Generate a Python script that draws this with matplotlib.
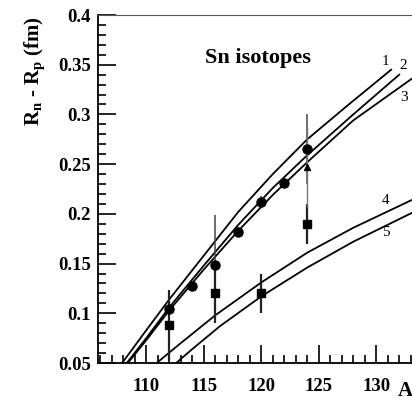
import matplotlib
matplotlib.use('Agg')
import matplotlib.pyplot as plt
from matplotlib.ticker import MultipleLocator

plt.rcParams['font.family'] = ['Liberation Serif', 'DejaVu Serif']
plt.rcParams['mathtext.fontset'] = 'custom'
plt.rcParams['mathtext.rm'] = 'Liberation Serif:bold'
plt.rcParams['mathtext.bf'] = 'Liberation Serif:bold'

# curves (mass number A, Rn - Rp in fm)
c1_A = [107.9, 110, 112, 115, 118, 121, 124, 127.5, 131.3]
c1_R = [0.05, 0.083, 0.114, 0.158, 0.202, 0.240, 0.275, 0.309, 0.345]
c2_A = [108.3, 110, 112, 115, 118, 121, 124, 128, 132]
c2_R = [0.05, 0.075, 0.106, 0.148, 0.189, 0.226, 0.259, 0.300, 0.340]
c3_A = [108.4, 110, 112, 115, 118, 121, 124, 128, 133.1]
c3_R = [0.05, 0.073, 0.103, 0.144, 0.183, 0.219, 0.252, 0.294, 0.336]
c4_A = [110.9, 113, 116, 120, 124, 128, 133.1]
c4_R = [0.05, 0.070, 0.098, 0.131, 0.161, 0.186, 0.214]
c5_A = [112.6, 114, 116.4, 120, 124, 128, 133.1]
c5_R = [0.05, 0.064, 0.087, 0.117, 0.146, 0.172, 0.201]

# experimental points
circ_A = [112, 114, 116, 118, 120, 122, 124]
circ_R = [0.104, 0.127, 0.149, 0.182, 0.212, 0.231, 0.265]
circ_err = [0.0, 0.0, 0.05, 0.005, 0.006, 0.005, 0.035]
sq_A = [112, 116, 120, 124]
sq_R = [0.088, 0.120, 0.120, 0.190]
sq_err = [0.035, 0.03, 0.02, 0.02]
tri_A = [124]
tri_R = [0.247]
tri_err = [0.04]

fig = plt.figure(figsize=(4.12, 4.01), dpi=100)
ax = fig.add_axes([98/412, 38/401, 330/412, 348/401])

for xs, ys in [(c1_A, c1_R), (c2_A, c2_R), (c3_A, c3_R), (c4_A, c4_R), (c5_A, c5_R)]:
    ax.plot(xs, ys, color='black', lw=1.3)

ax.errorbar(circ_A, circ_R, yerr=circ_err, fmt='o', color='black', ms=6.5,
            ecolor='#444444', elinewidth=1.1, capsize=0)
ax.errorbar(sq_A, sq_R, yerr=sq_err, fmt='s', color='black', ms=6,
            ecolor='#222222', elinewidth=1.6, capsize=0)
ax.errorbar(tri_A, tri_R, yerr=tri_err, fmt='^', color='black', ms=5,
            ecolor='#777777', elinewidth=1.0, capsize=0)

# curve numbers
for lab, xa, ya in [('1', 130.8, 0.353), ('2', 132.3, 0.349), ('3', 132.4, 0.317),
                    ('4', 130.8, 0.213), ('5', 130.8, 0.181)]:
    ax.text(xa, ya, lab, fontsize=11, ha='center', va='center')

ax.text(119.7, 0.357, 'Sn isotopes', fontsize=16, fontweight='bold',
        ha='center', va='center')

ax.set_xlim(105.8, 134.5)
ax.set_ylim(0.05, 0.4)
ax.xaxis.set_minor_locator(MultipleLocator(1))
ax.yaxis.set_minor_locator(MultipleLocator(0.01))
ax.set_xticks([110, 115, 120, 125, 130])
ax.set_xticklabels(['110', '115', '120', '125', '130'])
ax.set_yticks([0.05, 0.1, 0.15, 0.2, 0.25, 0.3, 0.35, 0.4])
ax.set_yticklabels(['0.05', '0.1', '0.15', '0.2', '0.25', '0.3', '0.35', '0.4'])
ax.tick_params(which='both', direction='in', top=False, right=False, width=1.2)
ax.tick_params(which='major', length=13, labelsize=13.5)
ax.tick_params(which='minor', length=6)
ax.tick_params(axis='x', which='major', pad=11)
ax.tick_params(axis='y', which='major', pad=5)
for t in ax.get_xticklabels() + ax.get_yticklabels():
    t.set_fontweight('bold')
ax.spines['top'].set_color('#555555')
ax.spines['left'].set_linewidth(1.3)
ax.spines['bottom'].set_linewidth(1.3)

fig.text(35/412, 1 - 16/401, r'$\mathrm{R_n}$ - $\mathrm{R_p}$ (fm)', rotation=90,
         fontsize=15, fontweight='bold', ha='center', va='top')
fig.text(405/412, 1 - 391/401, 'A', fontsize=15, fontweight='bold',
         ha='center', va='center')

plt.savefig('out.png', dpi=100)
